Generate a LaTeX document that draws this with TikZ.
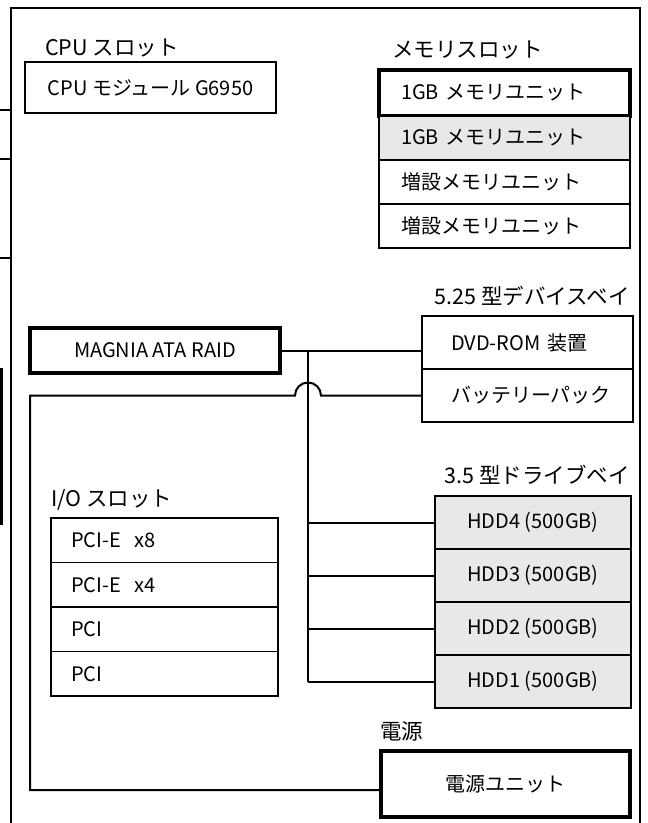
\documentclass[tikz,border=0pt]{standalone}
\usepackage{fontspec}
\setmainfont{Noto Sans CJK JP}
\usetikzlibrary{positioning}
\definecolor{baygray}{gray}{0.91}

\begin{document}
\begin{tikzpicture}[x=1pt, y=-1pt,
                          thinnode/.style={rectangle, draw, line width=1.2pt, inner sep=0pt, outer sep=0pt, font=\fontsize{20}{24}\selectfont},
                          squarednode/.style={thinnode, line width=2.4pt},
                          thicknode/.style={thinnode, line width=4pt},
                          graynode/.style={squarednode, fill=baygray},
                          memsize/.style={minimum height=44pt, text width=207pt, inner xsep=22pt, align=left},
                          baynode/.style={squarednode, minimum height=53pt, text width=153pt, inner xsep=29pt, align=left},
                          hddnode/.style={graynode, minimum width=196pt, minimum height=53pt},
                          ionode/.style={thinnode, minimum height=44.5pt, text width=187pt, inner xsep=20pt, align=left},
                          slotlabel/.style={inner sep=0pt, font=\fontsize{21.5}{25}\selectfont},
                          wire/.style={line width=2pt},
                      ]
                      \useasboundingbox (0,0) rectangle (648,823);

                      %Frame
                      \draw[wire] (11,823) -- (11,8) -- (640,8) -- (640,823);
                      \draw[wire] (0,110) -- (11,110);
                      \draw[wire] (0,159) -- (11,159);
                      \draw[wire] (0,258) -- (11,258);
                      \draw[line width=3pt] (1.5,368) -- (1.5,525);

                      %Nodes
                      \node[slotlabel, anchor=west]   (cpulbl)  at (45,48)            {CPU スロット};
                      \node[squarednode, minimum width=251pt, minimum height=51pt] (cpu) at (150.5,87.5) {CPU モジュール G6950};

                      \node[slotlabel, anchor=west]   (memlbl)  at (392,50)           {メモリスロット};
                      \node[thicknode, memsize, minimum height=46pt] (mem1) at (504.5,93) {1GB メモリユニット};
                      \node[graynode, memsize]        (mem2)    [below=0pt of mem1]   {1GB メモリユニット};
                      \node[thinnode, memsize]        (mem3)    [below=0pt of mem2]   {増設メモリユニット};
                      \node[thinnode, memsize]        (mem4)    [below=0pt of mem3]   {増設メモリユニット};

                      \node[slotlabel, anchor=east]   (dvdlbl)  at (630,296)          {5.25 型デバイスベイ};
                      \node[baynode]                  (dvd)     at (527.5,342.5)      {DVD-ROM 装置};
                      \node[baynode]                  (batt)    [below=0pt of dvd]    {バッテリーパック};

                      \node[thicknode, minimum width=250pt, minimum height=45pt] (raid) at (155,350.5) {MAGNIA ATA RAID};

                      \node[slotlabel, anchor=east]   (hddlbl)  at (630,475)          {3.5 型ドライブベイ};
                      \node[hddnode]                  (hdd4)    at (533,522.5)        {HDD4 (500GB)};
                      \node[hddnode]                  (hdd3)    [below=0pt of hdd4]   {HDD3 (500GB)};
                      \node[hddnode]                  (hdd2)    [below=0pt of hdd3]   {HDD2 (500GB)};
                      \node[hddnode]                  (hdd1)    [below=0pt of hdd2]   {HDD1 (500GB)};

                      \node[slotlabel, anchor=west]   (iolbl)   at (51,500)           {I/O スロット};
                      \node[ionode]                   (io1)     at (164.5,540.25)     {PCI-E\ \ x8};
                      \node[ionode]                   (io2)     [below=0pt of io1]    {PCI-E\ \ x4};
                      \node[ionode]                   (io3)     [below=0pt of io2]    {PCI};
                      \node[ionode]                   (io4)     [below=0pt of io3]    {PCI};

                      \node[slotlabel, anchor=west]   (pwrlbl)  at (380,731)          {電源};
                      \node[thicknode, minimum width=249pt, minimum height=66pt] (pwr) at (505.5,784) {電源ユニット};

                      %Lines
                      \coordinate (bus) at (308,350.5);
                      \draw[wire] (raid.east) -- (raid.east -| dvd.west);
                      \draw[wire] (bus) -- (bus |- hdd1.west);
                      \draw[wire] (bus |- hdd4.west) -- (hdd4.west);
                      \draw[wire] (bus |- hdd3.west) -- (hdd3.west);
                      \draw[wire] (bus |- hdd2.west) -- (hdd2.west);
                      \draw[wire] (bus |- hdd1.west) -- (hdd1.west);
                      \draw[wire] ([yshift=-6pt]pwr.west) -| (30,395.5) -- (295,395.5)
                                  arc[start angle=180, end angle=0, radius=13pt] -- (batt.west);
                  \end{tikzpicture}
\end{document}
